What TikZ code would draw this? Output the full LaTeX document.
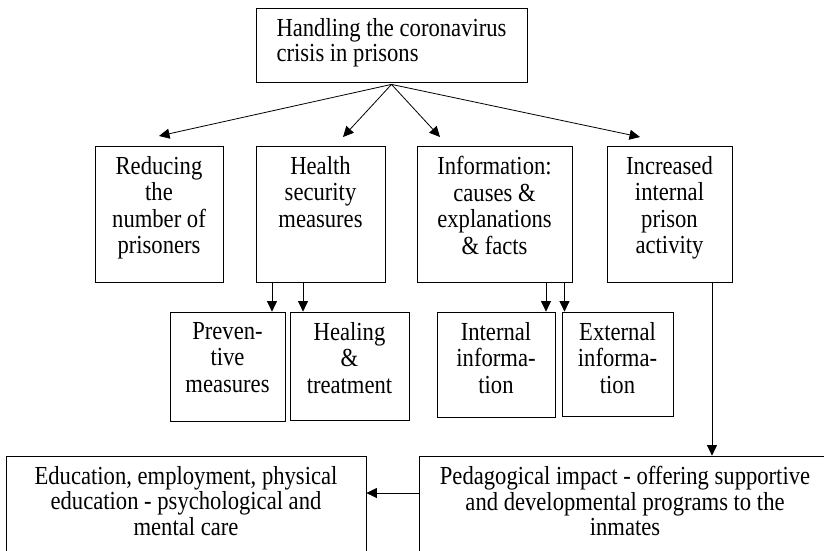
\documentclass[tikz,border=0pt]{standalone}
\usepackage{fontspec}
\setmainfont{Liberation Serif}[FakeStretch=0.87]
\usetikzlibrary{arrows.meta,positioning}
\tikzset{
	box/.style={draw, line width=0.8pt, inner sep=0pt},
	txt/.style={inner sep=0pt, align=center, font=\fontsize{26}{26.5}\selectfont},
	wide/.style={inner sep=0pt, align=center, font=\fontsize{26}{25.5}\selectfont},
	arr/.style={-{Triangle[length=10.5pt,width=10pt]}, line width=0.8pt},
}
\begin{document}
\begin{tikzpicture}[x=1pt,y=-1pt]
			\clip (0,0) rectangle (824,550);
			% top
			\node[box, minimum width=271pt, minimum height=74pt] (top) at (391.5,45) {};
			\node[wide, align=left, below=10.5pt of top.north] (top-t) {Handling the coronavirus\\crisis in prisons};
			% second row
			\node[box, minimum width=128pt, minimum height=136pt] (reduce) at (159,214) {};
			\node[txt, below=10.5pt of reduce.north] (reduce-t) {Reducing\\the\\number of\\prisoners};
			\node[box, minimum width=129pt, minimum height=136pt] (health) at (320.5,214) {};
			\node[txt, below=10.5pt of health.north] (health-t) {Health\\security\\measures};
			\node[box, minimum width=155pt, minimum height=136pt] (info) at (494.5,214) {};
			\node[txt, below=10.5pt of info.north] (info-t) {Information:\\causes \&\\explanations\\\& facts};
			\node[box, minimum width=125pt, minimum height=136pt] (incr) at (669.5,214) {};
			\node[txt, below=10.5pt of incr.north] (incr-t) {Increased\\internal\\prison\\activity};
			% third row
			\node[box, minimum width=115pt, minimum height=109pt] (prev) at (227.5,366.5) {};
			\node[txt, below=10.5pt of prev.north] (prev-t) {Preven-\\tive\\measures};
			\node[box, minimum width=119pt, minimum height=108pt] (heal) at (349.5,366) {};
			\node[txt, below=10.5pt of heal.north] (heal-t) {Healing\\\&\\treatment};
			\node[box, minimum width=118pt, minimum height=105pt] (intern) at (496,364.5) {};
			\node[txt, below=10.5pt of intern.north] (intern-t) {Internal\\informa-\\tion};
			\node[box, minimum width=111pt, minimum height=104pt] (extern) at (617.5,364) {};
			\node[txt, below=10.5pt of extern.north] (extern-t) {External\\informa-\\tion};
			% bottom row
			\node[box, minimum width=360pt, minimum height=104pt] (educ) at (186,508) {};
			\node[wide, below=10.5pt of educ.north] (educ-t) {Education, employment, physical\\education - psychological and\\mental care};
			\node[box, minimum width=412pt, minimum height=104pt] (peda) at (625,508) {};
			\node[wide, below=10.5pt of peda.north] (peda-t) {Pedagogical impact - offering supportive\\and developmental programs to the\\inmates};
			% arrows
			\coordinate (fork) at ([yshift=-2pt]top.south);
			\coordinate (reduce-in) at (159,136);
			\coordinate (health-in) at (343,137);
			\coordinate (info-in) at (440,137);
			\coordinate (incr-in) at (640,137);
			\draw[arr] (fork) -- (reduce-in);
			\draw[arr] (fork) -- (health-in);
			\draw[arr] (fork) -- (info-in);
			\draw[arr] (fork) -- (incr-in);
			\coordinate (h1) at (272,0);
			\coordinate (h2) at (303,0);
			\coordinate (i1) at (546,0);
			\coordinate (i2) at (564.5,0);
			\coordinate (c1) at (712,0);
			\coordinate (e1) at (0,493);
			\draw[arr] (health.south -| h1) -- (prev.north -| h1);
			\draw[arr] (health.south -| h2) -- (heal.north -| h2);
			\draw[arr] (info.south -| i1) -- (intern.north -| i1);
			\draw[arr] (info.south -| i2) -- (extern.north -| i2);
			\draw[arr] (incr.south -| c1) -- (peda.north -| c1);
			\draw[arr] (peda.west |- e1) -- (educ.east |- e1);
\end{tikzpicture}
\end{document}
